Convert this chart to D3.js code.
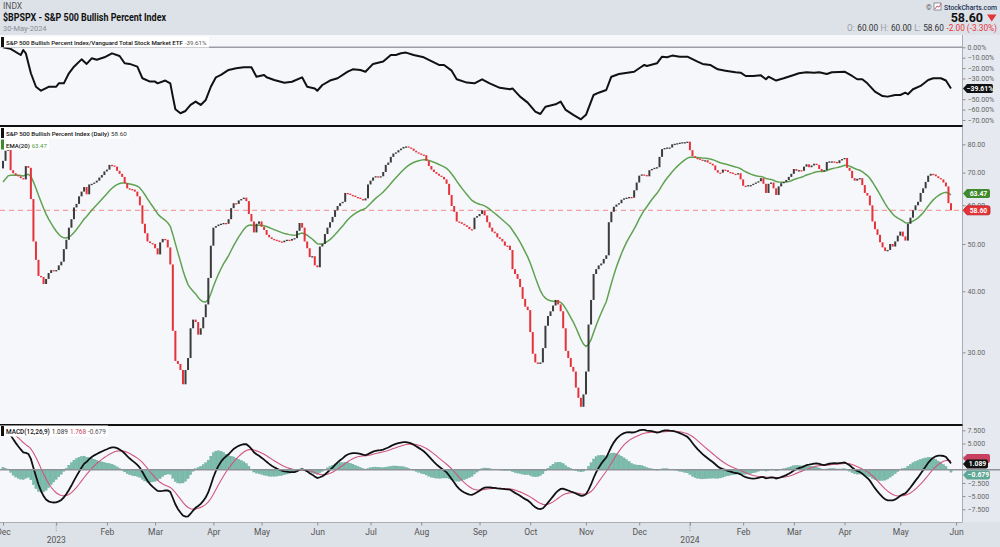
<!DOCTYPE html>
<html><head><meta charset="utf-8">
<script src="https://cdn.jsdelivr.net/npm/d3@7"></script>
<style>
html,body{margin:0;padding:0;background:#dde1e8;}
svg{display:block;font-family:Roboto,"Noto Sans",sans-serif;}
</style></head><body>
<svg id="c" width="1000" height="547"></svg>
<script>
// ---------------- DATA ----------------
const holidays = ["2022-12-26","2023-01-02","2023-01-16","2023-02-20","2023-04-07","2023-05-29",
  "2023-06-19","2023-07-04","2023-09-04","2023-11-23","2023-12-25","2024-01-01","2024-01-15",
  "2024-02-19","2024-03-29","2024-05-27"];
const firstOpen = 71.4;
// Daily closes of $BPSPX, 1-Dec-2022 .. 30-May-2024
const closes = [
74.0,77.6,78.2,70.8,69.8,69.2,68.8,68.2,67.8,72.2,
71.6,61.8,50.6,46.4,43.0,42.8,41.4,42.4,43.6,44.2,
44.0,44.2,45.2,46.0,48.8,51.0,54.0,56.2,59.4,60.4,
62.6,64.0,65.4,63.2,66.2,66.4,66.8,67.4,68.4,69.2,
70.4,71.0,72.6,72.4,72.0,70.6,69.6,68.6,66.6,65.0,
64.8,64.6,64.0,62.6,60.0,55.0,52.6,50.6,50.2,50.0,
49.0,47.6,50.4,51.2,51.0,49.2,45.4,33.2,28.8,28.4,
27.6,25.8,27.6,29.2,33.6,35.0,34.6,32.6,33.6,35.4,
37.6,42.6,49.6,54.0,54.4,54.8,55.0,55.2,55.0,56.2,
59.2,60.6,60.4,61.4,61.8,62.2,61.2,57.6,55.6,52.8,
55.0,55.6,54.2,53.4,52.2,51.6,51.2,51.0,50.8,50.6,
50.4,50.8,51.0,50.8,51.2,51.4,53.2,55.2,54.0,50.6,
49.0,47.0,47.2,45.2,44.8,49.4,50.0,52.4,54.0,55.4,
56.8,58.6,59.8,60.6,61.0,63.6,63.4,63.0,62.8,62.4,
62.2,61.8,61.4,62.0,66.2,67.4,68.4,68.8,68.6,68.8,
70.2,72.6,73.4,75.4,76.6,77.0,77.8,78.4,79.0,79.2,
78.8,78.4,77.6,77.0,76.6,76.2,76.0,74.0,72.2,71.0,
70.2,69.6,69.0,68.6,67.8,66.4,63.0,59.8,58.2,55.6,
55.4,55.0,54.6,54.2,53.6,53.6,56.6,57.0,57.6,58.6,
57.2,55.4,54.0,53.0,52.6,51.6,51.2,50.6,49.6,49.6,
48.6,44.4,43.4,42.4,40.8,38.6,37.2,36.6,33.0,29.8,
28.6,28.4,28.6,30.6,34.0,35.6,36.4,37.4,38.4,37.6,
36.4,33.6,30.2,29.2,28.0,27.4,25.4,24.2,23.2,24.6,
27.4,34.2,38.4,43.4,44.4,45.2,45.6,46.6,47.4,55.4,
58.2,59.6,60.2,60.6,61.6,62.0,62.2,62.4,62.2,64.4,
66.8,69.0,69.4,69.2,68.8,70.8,71.2,71.6,71.8,75.4,
78.2,78.6,78.8,78.8,80.0,80.2,80.4,80.6,80.8,80.8,
81.0,77.8,75.6,75.0,74.8,74.4,74.0,74.2,73.4,73.0,
72.4,70.8,70.0,70.0,71.0,70.8,70.2,70.0,69.6,69.4,
69.8,67.8,65.8,65.6,66.0,66.0,66.4,66.8,67.2,68.2,
66.4,63.6,66.4,66.8,65.0,63.0,65.6,66.6,67.0,67.6,
68.6,69.6,71.2,70.6,70.8,70.6,72.0,72.8,71.8,72.4,
73.0,72.6,71.2,70.4,70.8,73.6,73.8,73.8,73.6,73.2,
74.2,74.6,75.0,71.6,70.6,68.2,67.4,68.0,68.2,66.0,
63.6,62.8,60.0,55.6,53.6,52.2,50.4,49.2,48.4,48.6,
50.0,49.4,50.6,52.0,53.0,51.8,50.8,55.0,56.6,58.6,
60.0,61.0,63.6,65.0,67.0,69.0,69.6,69.4,68.8,68.2,
67.8,66.8,65.6,60.6,58.6];
// $BPSPX:VTI price relative, % change (trading-day index, value)
const ratioDay = [0,3,7,8,9,11,13,15,18,21,22,24,26,28,31,33,35,37,40,43,46,48,50,53,55,58,60,61,64,66,67,68,70,72,74,76,78,80,82,84,86,89,92,95,98,100,103,104,107,111,114,118,120,123,124,126,129,132,136,138,141,143,146,150,153,155,157,159,162,166,168,172,174,177,179,183,186,189,192,196,200,201,204,207,210,212,214,218,220,222,225,228,230,233,235,238,240,243,249,251,253,254,258,260,262,264,267,270,274,276,279,282,285,289,291,293,296,299,301,302,305,308,312,314,317,320,322,325,327,330,332,335,337,339,341,344,347,349,352,354,356,357,359,362,365,367,370,372,374];
const ratioPct = [0,-1.5,-7.4,-2.6,-5.8,-25,-38,-41.8,-38,-38,-34.7,-34.7,-25,-18.7,-11.6,-16,-10.6,-12,-9.6,-5.8,-8.4,-15.4,-16,-18.6,-29.8,-33,-33,-34.7,-32,-34.7,-47.5,-59.7,-63.5,-61.3,-55.5,-52.3,-55.5,-50.7,-38,-28.9,-26.6,-21.8,-20.2,-19.2,-19.2,-28.3,-26.6,-28.9,-31.5,-34.2,-33.2,-28.9,-38,-39.6,-41.8,-36.3,-32,-29.8,-23.5,-21.2,-21.8,-23.5,-16,-13.7,-7.4,-7.4,-5.8,-5.1,-7.4,-9.6,-12.2,-17,-17,-22.5,-30.8,-34,-34.7,-30.8,-34.7,-39,-40.4,-39.6,-47.5,-53.3,-62,-64.2,-57.2,-54.9,-52.3,-60.3,-65,-69.3,-65,-45.9,-43.7,-41.1,-28.3,-25.7,-23.5,-20.2,-17,-18,-15.4,-9.0,-9.6,-8.0,-9.0,-9.0,-13.8,-16,-17,-21.2,-22.5,-24.1,-24.4,-27.6,-27.6,-27,-30.8,-28.3,-32,-29.8,-26.6,-25,-24.1,-24.4,-24,-25.7,-24,-23.7,-23.5,-27.6,-30.8,-30.8,-34.7,-42.7,-46.9,-47.5,-45.9,-45.9,-43.7,-45.2,-40.4,-37.2,-31.5,-29.8,-29.8,-32,-39.61];
// indicator starting values read at the left edge
const ema20Start = 66.2, ema12Start = 71.6, ema26Start = 63.6, signalStart = 7.0;
// values printed in legends / tags
const lastClose = 58.60, lastEma = 63.47, lastRatio = -39.61;
const lastMacd = 1.089, lastSignal = 1.768, lastHist = -0.679;
const priceTicks = [80,70,60,50,40,30];
const ratioTicks = [0,-10,-20,-30,-50,-60,-70];
const macdTicks = [7.5,5,2.5,-2.5,-5,-7.5];

// ---------------- SETUP ----------------
const svg = d3.select("#c");
const PR = 962.5;
const hol = new Set(holidays);
const fmtKey = d3.timeFormat("%Y-%m-%d");
const days = [];
for (let d = new Date(2022,11,1); d <= new Date(2024,5,3); d.setDate(d.getDate()+1)) {
  const w = d.getDay(); if (w===0||w===6) continue;
  if (hol.has(fmtKey(d))) continue;
  days.push(new Date(d));
}
const x = d3.scaleLinear().domain([0,374]).range([3,951]);
const yR = d3.scaleLinear().domain([0,-70]).range([47.3,120]);
const yP = d3.scaleLog().domain([80,30]).range([144.3,352.3]);
const yM = d3.scaleLinear().domain([7.5,-7.5]).range([430.3,509.3]);

// indicators
const a20=2/21,a12=2/13,a26=2/27,a9=2/10;
let e20=ema20Start,e12=ema12Start,e26=ema26Start,sg=signalStart;
const ema20=[],macd=[],signal=[],hist=[];
closes.forEach(c=>{
  e20+=a20*(c-e20); e12+=a12*(c-e12); e26+=a26*(c-e26);
  const m=e12-e26; sg+=a9*(m-sg);
  ema20.push(e20); macd.push(m); signal.push(sg); hist.push(m-sg);
});

// text row helper: separate <text> per part, font size fitted to a total width
function textRow(parent,x0,y,parts,total,fs,anchor){
  const nodes = parts.map(p=>parent.append("text").attr("y",y).attr("font-size",fs)
      .attr("font-weight",p[2]||500).attr("fill",p[1]).text(p[0]));
  const gapRatio = 0.3;
  const nat = d3.sum(nodes.map(n=>n.node().getComputedTextLength())) + gapRatio*fs*(parts.length-1);
  const f = fs*total/nat;
  nodes.forEach(n=>n.attr("font-size",f));
  const ws = nodes.map(n=>n.node().getComputedTextLength());
  const tot = d3.sum(ws) + gapRatio*f*(parts.length-1);
  let xx = anchor==="end" ? x0-tot : x0;
  nodes.forEach((n,i)=>{ n.attr("x",xx); xx += ws[i] + gapRatio*f; });
}

// backgrounds
svg.append("rect").attr("x",0).attr("y",0).attr("width",1000).attr("height",547).attr("fill","#dde1e8");
svg.append("rect").attr("x",0).attr("y",35).attr("width",PR).attr("height",487).attr("fill","#f6f7fb");
svg.append("rect").attr("x",PR).attr("y",35).attr("width",1000-PR).attr("height",487).attr("fill","#e6e9ef");
svg.append("line").attr("x1",PR).attr("x2",PR).attr("y1",35).attr("y2",522).attr("stroke","#a9adb5");
svg.append("line").attr("x1",0).attr("x2",PR).attr("y1",522.5).attr("y2",522.5).attr("stroke","#a9adb5");

const defs = svg.append("defs");
function clip(id,y0,y1){defs.append("clipPath").attr("id",id).append("rect").attr("x",0).attr("y",y0).attr("width",PR).attr("height",y1-y0);}
clip("cT",36,125); clip("cP",127,424); clip("cM",426,522);

// ---------------- TOP PANEL ----------------
svg.append("line").attr("x1",0).attr("x2",PR).attr("y1",yR(0)).attr("y2",yR(0)).attr("stroke","#9a9ea6").attr("stroke-width",1.5);
svg.append("path").attr("clip-path","url(#cT)")
  .datum(ratioDay.map((d,k)=>[d,ratioPct[k]]))
  .attr("d",d3.line().x(d=>x(d[0])).y(d=>yR(d[1])))
  .attr("fill","none").attr("stroke","#111").attr("stroke-width",2).attr("stroke-linejoin","round");

// ---------------- MAIN PANEL ----------------
svg.append("line").attr("x1",0).attr("x2",PR).attr("y1",yP(lastClose)).attr("y2",yP(lastClose))
  .attr("stroke","#f2a0a0").attr("stroke-width",1.2).attr("stroke-dasharray","5,4");
const gP = svg.append("g").attr("clip-path","url(#cP)");
gP.append("path").datum(ema20).attr("d",d3.line().x((d,i)=>x(i)).y(d=>yP(d)))
  .attr("fill","none").attr("stroke","#5fa352").attr("stroke-width",1.5);
gP.selectAll("rect.c").data(closes).join("rect").attr("class","c")
  .attr("x",(d,i)=>x(i)-1).attr("width",2)
  .attr("y",(d,i)=>{const o=i?closes[i-1]:firstOpen; return Math.min(yP(o),yP(d));})
  .attr("height",(d,i)=>{const o=i?closes[i-1]:firstOpen; return Math.max(1.3,Math.abs(yP(o)-yP(d)));})
  .attr("fill",(d,i)=>{const o=i?closes[i-1]:firstOpen; return d<o?"#e5333a":(d>o?"#3c3c3c":(i>1&&closes[i-1]<closes[i-2]?"#e5333a":"#3c3c3c"));});

// separators
svg.append("line").attr("x1",0).attr("x2",PR).attr("y1",126).attr("y2",126).attr("stroke","#111").attr("stroke-width",2);
svg.append("line").attr("x1",0).attr("x2",PR).attr("y1",425).attr("y2",425).attr("stroke","#111").attr("stroke-width",2);

// ---------------- MACD PANEL ----------------
const gM = svg.append("g").attr("clip-path","url(#cM)");
gM.selectAll("rect.h").data(hist).join("rect").attr("class","h")
  .attr("x",(d,i)=>x(i)-1.1).attr("width",2.2)
  .attr("y",d=>Math.min(yM(0),yM(d))).attr("height",d=>Math.abs(yM(d)-yM(0)))
  .attr("fill","#79bcab").attr("stroke","#5a9f8e").attr("stroke-width",0.3);
svg.append("line").attr("x1",0).attr("x2",1000).attr("y1",yM(0)).attr("y2",yM(0)).attr("stroke","#8e9299").attr("stroke-width",1.5);
gM.append("path").datum(signal).attr("d",d3.line().x((d,i)=>x(i)).y(d=>yM(d)))
  .attr("fill","none").attr("stroke","#d0557a").attr("stroke-width",1.1);
gM.append("path").datum(macd).attr("d",d3.line().x((d,i)=>x(i)).y(d=>yM(d)))
  .attr("fill","none").attr("stroke","#111").attr("stroke-width",1.8);

// ---------------- RIGHT AXES ----------------
function rAxis(scale,ticks,fmt){
  const g = svg.append("g").attr("transform",`translate(${PR},0)`)
    .call(d3.axisRight(scale).tickValues(ticks).tickSize(3).tickPadding(2).tickFormat(fmt));
  g.select(".domain").remove();
  g.selectAll("line").attr("stroke","#8a8e96");
  g.selectAll("text").attr("font-size",7).attr("fill","#666").attr("font-family","Roboto,sans-serif");
}
rAxis(yR,ratioTicks,d=>d3.format(".2f")(d)+"%");
rAxis(yP,priceTicks,d3.format(".2f"));
rAxis(yM,macdTicks,d3.format(".3f"));

// ---------------- X AXIS ----------------
const monthIdx = days.map((d,i)=>i).filter(i=>i===0||days[i].getMonth()!==days[i-1].getMonth());
const gx = svg.append("g").attr("transform","translate(0,522.5)")
  .call(d3.axisBottom(x).tickValues(monthIdx).tickSize(3).tickPadding(3)
    .tickFormat(i=>days[i].getMonth()===0?"":d3.timeFormat("%b")(days[i])));
gx.select(".domain").remove();
gx.selectAll("line").attr("stroke","#8a8e96");
gx.selectAll("text").attr("font-size",8.5).attr("fill","#555").attr("font-family","Roboto,sans-serif");
monthIdx.filter(i=>days[i].getMonth()===0).forEach(i=>{
  svg.append("line").attr("x1",x(i)).attr("x2",x(i)).attr("y1",522.5).attr("y2",531)
    .attr("stroke","#8a8e96").attr("stroke-dasharray","1,1.5");
  svg.append("text").attr("x",x(i)).attr("y",543).attr("text-anchor","middle")
    .attr("font-size",8.5).attr("fill","#555").text(d3.timeFormat("%Y")(days[i]));
});

// ---------------- TAGS ----------------
function tag(yv,txt,fill,tcol,stroke,w){
  const x0=PR+0.5,h=9,t=yv-h/2,b=yv+h/2,r=x0+w;
  svg.append("path").attr("d",`M${x0},${yv}L${x0+4},${t}H${r-2}Q${r},${t} ${r},${t+2}V${b-2}Q${r},${b} ${r-2},${b}H${x0+4}Z`)
    .attr("fill",fill).attr("stroke",stroke||"none").attr("stroke-width",0.8);
  if (txt) svg.append("text").attr("x",x0+4+(w-4)/2).attr("y",yv+2.4).attr("text-anchor","middle")
    .attr("font-size",6.8).attr("font-weight",700).attr("fill",tcol).text(txt);
}
tag(yR(lastRatio),d3.format(".2f")(lastRatio)+"%","#111","#fff",null,30);
tag(yP(lastEma),d3.format(".2f")(lastEma),"#3f8a2c","#fff",null,27);
tag(yP(lastClose),d3.format(".2f")(lastClose),"#e5333a","#fff","#b71c1c",27);
tag(yM(lastSignal)-2,"","#c8405f","#fff",null,27);
tag(yM(lastMacd),d3.format(".3f")(lastMacd),"#111","#fff",null,25);
tag(yM(lastHist)+1.5,d3.format(".3f")(lastHist),"#5fa895","#fff",null,27);

// ---------------- LEGENDS ----------------
function legend(y,parts,swatch,len){
  const g=svg.append("g");
  g.append("rect").attr("x",0).attr("y",y-8.5).attr("width",len+8).attr("height",11).attr("fill","#fff");
  g.append("rect").attr("x",1).attr("y",y-8).attr("width",3).attr("height",10).attr("fill",swatch);
  textRow(g,6,y,parts,len,7.5);
}
legend(45,[["S&P 500 Bullish Percent Index/Vanguard Total Stock Market ETF","#111"],["-39.61%","#555",400]],"#111",201);
legend(136,[["S&P 500 Bullish Percent Index (Daily)","#111"],["58.60","#333",400]],"#111",121);
legend(147.5,[["EMA(20)","#111"],["63.47","#4c9a3a",400]],"#3f8a2c",41);
legend(434,[["MACD(12,26,9)","#111"],["1.089","#333",400],["1.768","#c8405f",400],["-0.679","#555",400]],"#111",100);

// ---------------- HEADER ----------------
svg.append("text").attr("x",3).attr("y",8.8).attr("font-size",8.5).attr("fill","#555").text("INDX");
svg.append("text").attr("x",3).attr("y",21).attr("font-size",10.5).attr("font-weight",700).attr("fill","#111")
  .attr("textLength",163).attr("lengthAdjust","spacingAndGlyphs").text("$BPSPX - S&P 500 Bullish Percent Index");
svg.append("text").attr("x",3).attr("y",31).attr("font-size",7.5).attr("fill","#8a8e96").text("30-May-2024");
// right header
svg.append("text").attr("x",926).attr("y",9.5).attr("font-size",7).attr("fill","#555").text("©");
svg.append("rect").attr("x",934).attr("y",3).attr("width",7).attr("height",7).attr("fill","#fff").attr("stroke","#667").attr("stroke-width",0.7);
svg.append("path").attr("d","M935,9L937,6L939,7L941,4").attr("fill","none").attr("stroke","#c33").attr("stroke-width",0.8);
textRow(svg.append("g"),997,10,[["StockCharts.com","#223355",500]],53,7.8,"end");
svg.append("text").attr("x",983).attr("y",22).attr("text-anchor","end").attr("font-size",12.5).attr("font-weight",700).attr("fill","#111").text("58.60");
svg.append("path").attr("d","M987,14.5H996.5L991.75,21.5Z").attr("fill","#e5333a");
const ohlcG = svg.append("g");
textRow(ohlcG,997,31,[["O:","#9a9ea6",400],["60.00","#333",400],["H:","#9a9ea6",400],["60.00","#333",400],
  ["L:","#9a9ea6",400],["58.60","#333",400],["-2.00 (-3.30%)","#e5333a",400]],150,7.8,"end");
</script>
</body></html>
